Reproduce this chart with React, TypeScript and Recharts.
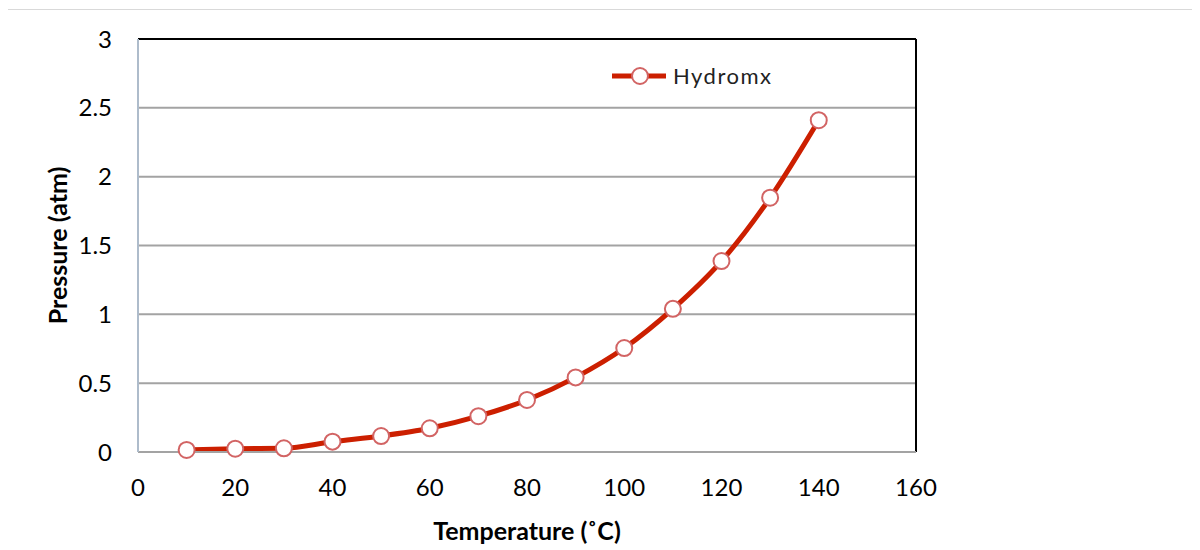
import { LineChart, Line, XAxis, YAxis, CartesianGrid, ReferenceLine, Legend } from 'recharts';

const temperatures = [10, 20, 30, 40, 50, 60, 70, 80, 90, 100, 110, 120, 130, 140];
const hydromx = [0.015, 0.024, 0.027, 0.075, 0.116, 0.172, 0.26, 0.378, 0.542, 0.755, 1.04, 1.387, 1.847, 2.41];
const xTicks = [0, 20, 40, 60, 80, 100, 120, 140, 160];
const yTicks = [0, 0.5, 1, 1.5, 2, 2.5, 3];

const data = temperatures.map((t, i) => ({ temp: t, Hydromx: hydromx[i] }));

const FONT = 'Lato, "Open Sans", sans-serif';
const RED = '#cc1f00';
const DOT_STROKE = '#d26464';

// legend drawn like the Excel one: line with hollow marker, then name
function LegendContent() {
  return (
    <div style={{ display: 'flex', alignItems: 'center', fontFamily: FONT }}>
      <svg width={56} height={24}>
        <line x1={0} y1={12} x2={54} y2={12} stroke={RED} strokeWidth={5} />
        <circle cx={28} cy={12} r={8} fill="#fff" stroke={DOT_STROKE} strokeWidth={2} />
      </svg>
      <span style={{ marginLeft: 5, fontSize: 22, letterSpacing: 1.5, color: '#222' }}>Hydromx</span>
    </div>
  );
}

function YTitle({ viewBox }: any) {
  const x = viewBox.x + 49;
  const y = viewBox.y + viewBox.height / 2;
  return (
    <text x={x} y={y} transform={`rotate(-90, ${x}, ${y})`} textAnchor="middle" dominantBaseline="central"
      fontFamily={FONT} fontWeight="bold" fontSize={25} fill="#000">
      Pressure (atm)
    </text>
  );
}

function XTitle({ viewBox }: any) {
  const x = viewBox.x + viewBox.width / 2;
  const y = viewBox.y + 78;
  return (
    <text x={x} y={y} textAnchor="middle" dominantBaseline="central"
      fontFamily={FONT} fontWeight="bold" fontSize={25} fill="#000">
      Temperature (˚C)
    </text>
  );
}

export default function App() {
  return (
    <div style={{
      width: 1192, height: 540, marginLeft: -1, marginTop: 1,
      borderTop: '1px solid #d9d9d9', borderLeft: '1px solid #d9d9d9', background: '#fff'
    }}>
      <LineChart width={1192} height={540} data={data} margin={{ top: 29, right: 284, left: 0, bottom: 0 }}>
        <CartesianGrid vertical={false} stroke="#a3a3a3" strokeWidth={2} />
        <XAxis
          dataKey="temp"
          type="number"
          domain={[0, 160]}
          ticks={xTicks}
          height={98}
          tickSize={0}
          tickMargin={27}
          axisLine={{ stroke: '#a3a3a3', strokeWidth: 2 }}
          tick={{ fill: '#000', fontSize: 24, fontFamily: FONT }}
          label={<XTitle />}
        />
        <YAxis
          type="number"
          domain={[0, 3]}
          ticks={yTicks}
          width={130}
          tickSize={0}
          tickMargin={26}
          axisLine={{ stroke: '#aebccb', strokeWidth: 2 }}
          tick={{ fill: '#000', fontSize: 24, fontFamily: FONT }}
          label={<YTitle />}
        />
        <ReferenceLine y={3} stroke="#000" strokeWidth={2} />
        <ReferenceLine x={160} stroke="#000" strokeWidth={2} />
        <Legend
          content={<LegendContent />}
          layout="horizontal"
          verticalAlign="middle"
          align="center"
          wrapperStyle={{ top: 52, left: 604, width: 'auto' }}
        />
        <Line
          dataKey="Hydromx"
          type="monotone"
          stroke={RED}
          strokeWidth={5}
          dot={{ r: 8, fill: '#fff', stroke: DOT_STROKE, strokeWidth: 2 }}
          activeDot={false}
          isAnimationActive={false}
        />
      </LineChart>
    </div>
  );
}
